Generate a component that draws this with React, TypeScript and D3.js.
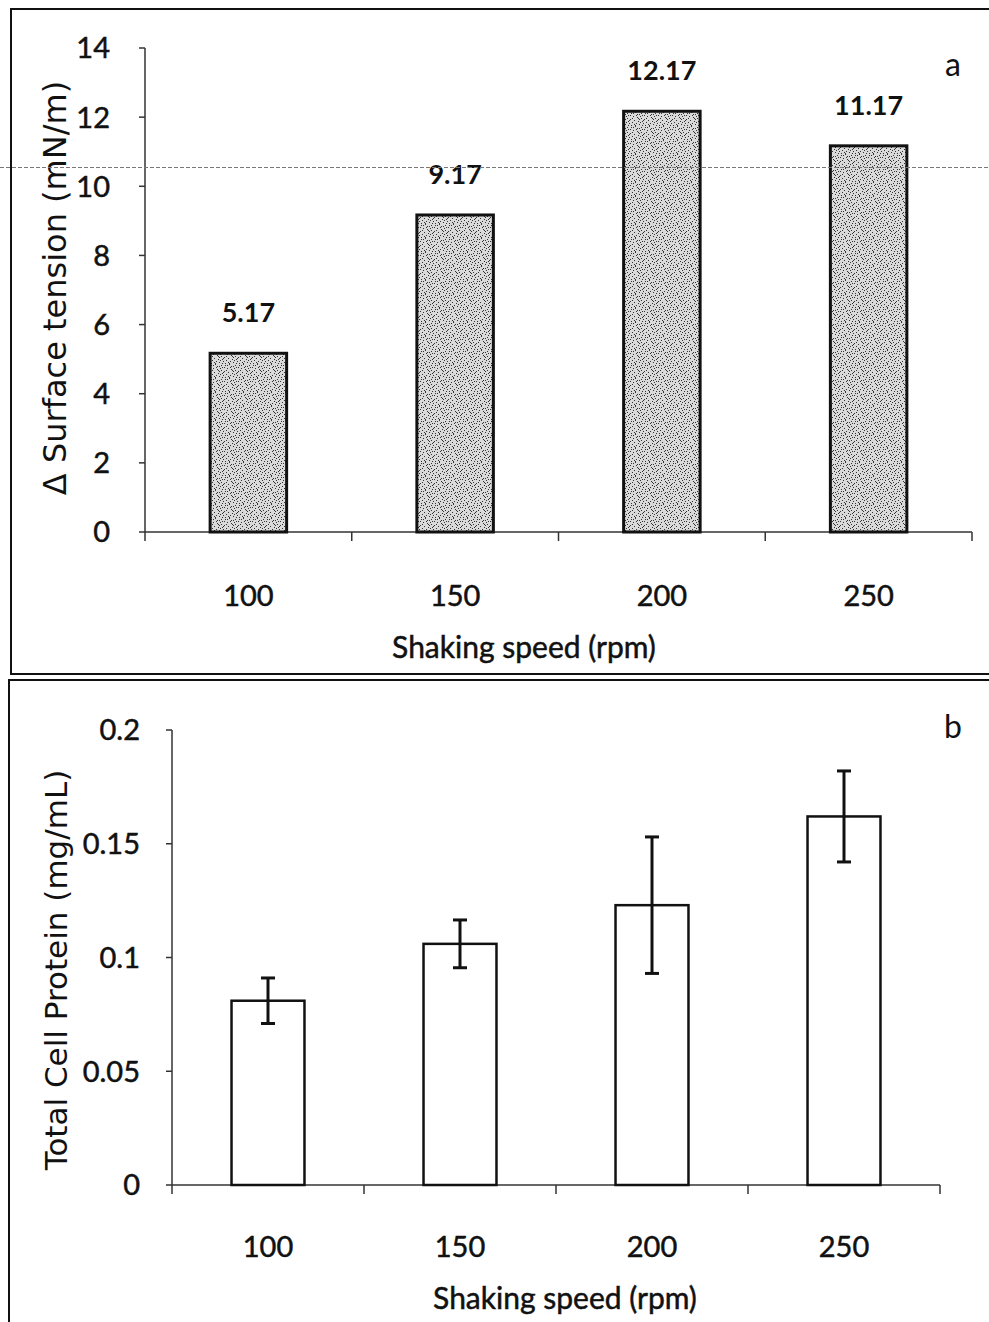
import React from "react";
import * as d3 from "d3";

// Shaking speeds tested (rpm)
const speeds = ["100", "150", "200", "250"];
// Panel a: reduction in surface tension (mN/m)
const tensionDelta = [5.17, 9.17, 12.17, 11.17];
const tensionTicks = [0, 2, 4, 6, 8, 10, 12, 14];
// Panel b: total cell protein (mg/mL) with error bars
const proteinMean = [0.081, 0.106, 0.123, 0.162];
const proteinErr = [0.01, 0.0105, 0.03, 0.02];
const proteinTicks = [0, 0.05, 0.1, 0.15, 0.2];

const W = 989;
const H = 1322;
const TXT = "Lato, 'Open Sans', sans-serif";
const TITLE = "'DejaVu Sans', 'Open Sans', sans-serif";
const INK = "#111";

// fixed speckle positions for the stippled bar fill
const speckles: [number, number][] = [
  [1, 1], [5, 0], [9, 2], [3, 4], [7, 5], [11, 6], [0, 7], [4, 8],
  [8, 9], [2, 10], [6, 11], [10, 10], [12, 3], [13, 8], [1, 13],
  [5, 13], [9, 12], [12, 13], [3, 1], [7, 2], [10, 4], [13, 11],
  [2, 6], [6, 3], [11, 1], [4, 12], [8, 6], [12, 9], [0, 3], [9, 7],
];

export default function App() {
  // ---------- panel a ----------
  const ax0 = 145, ax1 = 972;
  const xa = d3.scaleBand<string>().domain(speeds).range([ax0, ax1]).paddingInner(0.63).paddingOuter(0.315);
  const ya = d3.scaleLinear().domain([0, 14]).range([532, 48]);
  const fmt2 = d3.format(".2f");

  // ---------- panel b ----------
  const bx0 = 172, bx1 = 940;
  const xb = d3.scaleBand<string>().domain(speeds).range([bx0, bx1]).paddingInner(0.62).paddingOuter(0.31);
  const yb = d3.scaleLinear().domain([0, 0.2]).range([1185, 730]);

  const stepA = xa.step();
  const stepB = xb.step();

  const tickText = { fontFamily: TXT, fontSize: 29, fill: INK, stroke: INK, strokeWidth: 0.5 };

  return (
    <svg width={W} height={H} style={{ position: "absolute", left: 0, top: 0, background: "#fff" }}>
      <defs>
        <pattern id="stipple" width={14} height={14} patternUnits="userSpaceOnUse">
          <rect width={14} height={14} fill="#dadada" />
          {speckles.map(([x, y], i) => (
            <rect key={i} x={x} y={y} width={1} height={1} fill="#333" />
          ))}
        </pattern>
      </defs>

      {/* panel frames */}
      <rect x={11} y={9} width={990} height={665} fill="none" stroke={INK} strokeWidth={2} />
      <rect x={9} y={680} width={990} height={660} fill="none" stroke={INK} strokeWidth={2} />

      {/* ===== panel a ===== */}
      <g>
        {/* y axis */}
        <line x1={ax0} x2={ax0} y1={ya(14)} y2={ya(0)} stroke="#333" strokeWidth={1.5} />
        {tensionTicks.map((t) => (
          <g key={t}>
            <line x1={ax0 - 6} x2={ax0} y1={ya(t)} y2={ya(t)} stroke="#333" strokeWidth={1.5} />
            <text x={110} y={ya(t)} dy="0.36em" textAnchor="end" {...tickText}>
              {t}
            </text>
          </g>
        ))}
        {/* x axis */}
        <line x1={ax0} x2={ax1} y1={ya(0)} y2={ya(0)} stroke="#333" strokeWidth={1.5} />
        {d3.range(speeds.length + 1).map((i) => (
          <line key={i} x1={ax0 + i * stepA} x2={ax0 + i * stepA} y1={ya(0)} y2={ya(0) + 9} stroke="#333" strokeWidth={1.5} />
        ))}
        {/* bars */}
        {speeds.map((s, i) => (
          <rect
            key={s}
            x={xa(s)!}
            y={ya(tensionDelta[i])}
            width={xa.bandwidth()}
            height={ya(0) - ya(tensionDelta[i])}
            fill="url(#stipple)"
            stroke={INK}
            strokeWidth={3}
          />
        ))}
        {/* value labels */}
        {speeds.map((s, i) => (
          <text
            key={s}
            x={xa(s)! + xa.bandwidth() / 2}
            y={ya(tensionDelta[i]) - 41}
            dy="0.36em"
            textAnchor="middle"
            fontFamily={TXT}
            fontWeight={700}
            fontSize={27}
            fill={INK}
          >
            {fmt2(tensionDelta[i])}
          </text>
        ))}
        {/* category labels */}
        {speeds.map((s) => (
          <text key={s} x={xa(s)! + xa.bandwidth() / 2} y={596} dy="0.36em" textAnchor="middle" {...tickText}>
            {s}
          </text>
        ))}
        <text x={524} y={647} dy="0.36em" textAnchor="middle" {...tickText} fontSize={30}>
          Shaking speed (rpm)
        </text>
        <text
          transform={`translate(54, 288) rotate(-90)`}
          dy="0.36em"
          textAnchor="middle"
          fontFamily={TITLE}
          fontSize={32}
          fill={INK}
        >
          Δ Surface tension (mN/m)
        </text>
        <text x={953} y={64} dy="0.36em" textAnchor="middle" fontFamily={TXT} fontSize={32} fill={INK}>
          a
        </text>
      </g>

      {/* faint horizontal streak across panel a */}
      <line x1={0} x2={W} y1={167.5} y2={167.5} stroke="#777" strokeWidth={1} strokeDasharray="4 2" />

      {/* ===== panel b ===== */}
      <g>
        <line x1={bx0} x2={bx0} y1={yb(0.2)} y2={yb(0)} stroke="#333" strokeWidth={1.5} />
        {proteinTicks.map((t) => (
          <g key={t}>
            <line x1={bx0 - 6} x2={bx0} y1={yb(t)} y2={yb(t)} stroke="#333" strokeWidth={1.5} />
            <text x={140} y={yb(t)} dy="0.36em" textAnchor="end" {...tickText}>
              {String(t)}
            </text>
          </g>
        ))}
        <line x1={bx0} x2={bx1} y1={yb(0)} y2={yb(0)} stroke="#333" strokeWidth={1.5} />
        {d3.range(speeds.length + 1).map((i) => (
          <line key={i} x1={bx0 + i * stepB} x2={bx0 + i * stepB} y1={yb(0)} y2={yb(0) + 9} stroke="#333" strokeWidth={1.5} />
        ))}
        {speeds.map((s, i) => (
          <rect
            key={s}
            x={xb(s)!}
            y={yb(proteinMean[i])}
            width={xb.bandwidth()}
            height={yb(0) - yb(proteinMean[i])}
            fill="#fff"
            stroke={INK}
            strokeWidth={2.5}
          />
        ))}
        {/* error bars */}
        {speeds.map((s, i) => {
          const cx = xb(s)! + xb.bandwidth() / 2;
          const hi = yb(proteinMean[i] + proteinErr[i]);
          const lo = yb(proteinMean[i] - proteinErr[i]);
          return (
            <g key={s} stroke={INK} strokeWidth={3}>
              <line x1={cx} x2={cx} y1={hi} y2={lo} />
              <line x1={cx - 7} x2={cx + 7} y1={hi} y2={hi} />
              <line x1={cx - 7} x2={cx + 7} y1={lo} y2={lo} />
            </g>
          );
        })}
        {speeds.map((s) => (
          <text key={s} x={xb(s)! + xb.bandwidth() / 2} y={1247} dy="0.36em" textAnchor="middle" {...tickText}>
            {s}
          </text>
        ))}
        <text x={565} y={1298} dy="0.36em" textAnchor="middle" {...tickText} fontSize={30}>
          Shaking speed (rpm)
        </text>
        <text
          transform={`translate(56, 970) rotate(-90)`}
          dy="0.36em"
          textAnchor="middle"
          fontFamily={TITLE}
          fontSize={31}
          fill={INK}
        >
          Total Cell Protein (mg/mL)
        </text>
        <text x={953} y={726} dy="0.36em" textAnchor="middle" fontFamily={TXT} fontSize={32} fill={INK}>
          b
        </text>
      </g>
    </svg>
  );
}
